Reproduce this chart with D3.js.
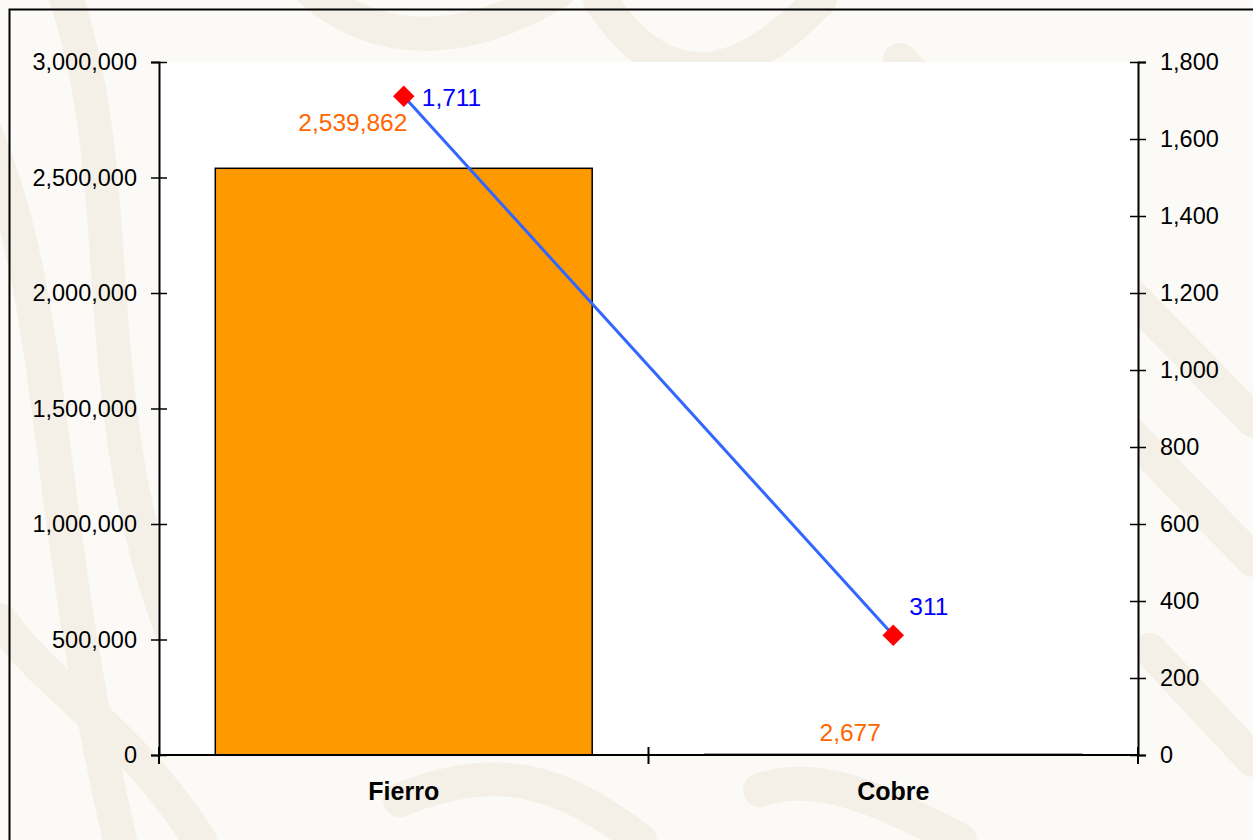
<!DOCTYPE html>
<html>
<head>
<meta charset="utf-8">
<script src="https://cdn.jsdelivr.net/npm/d3@7"></script>
<style>
  body { margin: 0; background: #fbfaf6; }
  text { font-family: "Liberation Sans", Arial, sans-serif; }
</style>
</head>
<body>
<div id="chart"></div>
<script>
const categories = ["Fierro", "Cobre"]
const barValues = [2539862, 2677]
const lineValues = [1711, 311]
const leftTicks = [0, 500000, 1000000, 1500000, 2000000, 2500000, 3000000]
const rightTicks = [0, 200, 400, 600, 800, 1000, 1200, 1400, 1600, 1800]

const drawChart = () => {
  const width = 1253
  const height = 840
  const margin = { top: 62, right: 115, bottom: 85, left: 159 }
  const innerWidth = width - margin.left - margin.right
  const innerHeight = height - margin.top - margin.bottom

  const svg = d3.select("#chart")
    .append("svg")
      .attr("width", width)
      .attr("height", height)

  // faint background swirls
  const bg = svg.append("g")
    .attr("fill", "none")
    .attr("stroke", "#f4f0e7")
    .attr("stroke-linecap", "round")
  const swirls = [
    "M-20,120 C60,300 40,500 120,840",
    "M60,-20 C140,200 70,420 200,700",
    "M300,-20 C380,60 480,40 560,-10",
    "M600,0 C680,120 760,60 820,0",
    "M900,60 L1253,420",
    "M1000,300 L1253,560",
    "M1150,650 L1253,760",
    "M0,620 C60,700 120,720 200,840",
    "M400,800 C500,760 560,780 640,840",
    "M760,790 C820,770 880,800 960,840"
  ]
  bg.selectAll("path")
    .data(swirls)
    .join("path")
      .attr("d", d => d)
      .attr("stroke-width", 34)

  svg.append("rect")
    .attr("x", 9.5)
    .attr("y", 9.5)
    .attr("width", width + 20)
    .attr("height", height + 20)
    .attr("fill", "none")
    .attr("stroke", "#000")
    .attr("stroke-width", 2)

  const chart = svg.append("g")
    .attr("transform", `translate(${margin.left}, ${margin.top})`)

  chart.append("rect")
    .attr("width", innerWidth)
    .attr("height", innerHeight)
    .attr("fill", "#fff")

  const xScale = d3.scaleBand()
    .domain(categories)
    .range([0, innerWidth])
    .paddingInner(0)
    .paddingOuter(0)

  const yLeft = d3.scaleLinear()
    .domain([0, 3000000])
    .range([innerHeight, 0])

  const yRight = d3.scaleLinear()
    .domain([0, 1800])
    .range([innerHeight, 0])

  // bars
  const barPad = 0.115
  chart.selectAll(".bar")
    .data(barValues)
    .join("rect")
      .attr("class", "bar")
      .attr("x", (d, i) => xScale(categories[i]) + xScale.bandwidth() * barPad)
      .attr("y", d => yLeft(d))
      .attr("width", xScale.bandwidth() * (1 - 2 * barPad))
      .attr("height", d => innerHeight - yLeft(d))
      .attr("fill", "#ff9900")
      .attr("stroke", "#000")
      .attr("stroke-width", 1.5)

  const barLabelOffset = [46, 22]
  const barLabelPos = [0.396, 0.412]
  chart.selectAll(".bar-label")
    .data(barValues)
    .join("text")
      .attr("class", "bar-label")
      .attr("x", (d, i) => xScale(categories[i]) + xScale.bandwidth() * barLabelPos[i])
      .attr("y", (d, i) => yLeft(d) - barLabelOffset[i])
      .attr("dy", "0.35em")
      .attr("text-anchor", "middle")
      .attr("font-size", 24.5)
      .attr("fill", "#ff6600")
      .text(d => d3.format(",")(d))

  // axes
  const leftAxis = d3.axisLeft(yLeft)
    .tickValues(leftTicks)
    .tickFormat(d3.format(","))
    .tickSize(8)
    .tickPadding(14)
  const gLeft = chart.append("g").call(leftAxis)

  const rightAxis = d3.axisRight(yRight)
    .tickValues(rightTicks)
    .tickFormat(d3.format(","))
    .tickSize(8)
    .tickPadding(14)
  const gRight = chart.append("g")
    .attr("transform", `translate(${innerWidth}, 0)`)
    .call(rightAxis)

  ;[gLeft, gRight].forEach(g => {
    g.select(".domain").attr("stroke", "#000").attr("stroke-width", 2)
    g.selectAll(".tick line")
      .attr("stroke", "#000")
      .attr("stroke-width", 1.5)
    g.selectAll(".tick text")
      .attr("font-size", 23.5)
      .attr("fill", "#000")
      .attr("font-family", "Liberation Sans, Arial, sans-serif")
  })
  gLeft.selectAll(".tick line").attr("x1", 8)
  gRight.selectAll(".tick line").attr("x1", -8)

  // x axis
  chart.append("line")
    .attr("x1", 0)
    .attr("x2", innerWidth)
    .attr("y1", innerHeight)
    .attr("y2", innerHeight)
    .attr("stroke", "#000")
    .attr("stroke-width", 2)

  const boundaries = [0, xScale.bandwidth(), innerWidth]
  chart.selectAll(".x-tick")
    .data(boundaries)
    .join("line")
      .attr("class", "x-tick")
      .attr("x1", d => d)
      .attr("x2", d => d)
      .attr("y1", innerHeight - 8)
      .attr("y2", innerHeight + 9)
      .attr("stroke", "#000")
      .attr("stroke-width", 2)

  chart.selectAll(".x-label")
    .data(categories)
    .join("text")
      .attr("class", "x-label")
      .attr("x", d => xScale(d) + xScale.bandwidth() / 2)
      .attr("y", innerHeight + 36)
      .attr("dy", "0.35em")
      .attr("text-anchor", "middle")
      .attr("font-size", 25)
      .attr("font-weight", "bold")
      .attr("fill", "#000")
      .text(d => d)

  // line series on right axis
  const lineGenerator = d3.line()
    .x((d, i) => xScale(categories[i]) + xScale.bandwidth() / 2)
    .y(d => yRight(d))

  chart.append("path")
    .attr("d", lineGenerator(lineValues))
    .attr("fill", "none")
    .attr("stroke", "#3366ff")
    .attr("stroke-width", 3)

  chart.selectAll(".marker")
    .data(lineValues)
    .join("path")
      .attr("class", "marker")
      .attr("d", d3.symbol(d3.symbolSquare, 230))
      .attr("transform", (d, i) =>
        `translate(${xScale(categories[i]) + xScale.bandwidth() / 2}, ${yRight(d)}) rotate(45)`)
      .attr("fill", "#ff0000")

  const lineLabelDx = [18, 16]
  const lineLabelDy = [1, -29]
  chart.selectAll(".line-label")
    .data(lineValues)
    .join("text")
      .attr("class", "line-label")
      .attr("x", (d, i) => xScale(categories[i]) + xScale.bandwidth() / 2 + lineLabelDx[i])
      .attr("y", (d, i) => yRight(d) + lineLabelDy[i])
      .attr("dy", "0.35em")
      .attr("font-size", 24.5)
      .attr("fill", "#0000ff")
      .text(d => d3.format(",")(d))
}

drawChart()
</script>
</body>
</html>
